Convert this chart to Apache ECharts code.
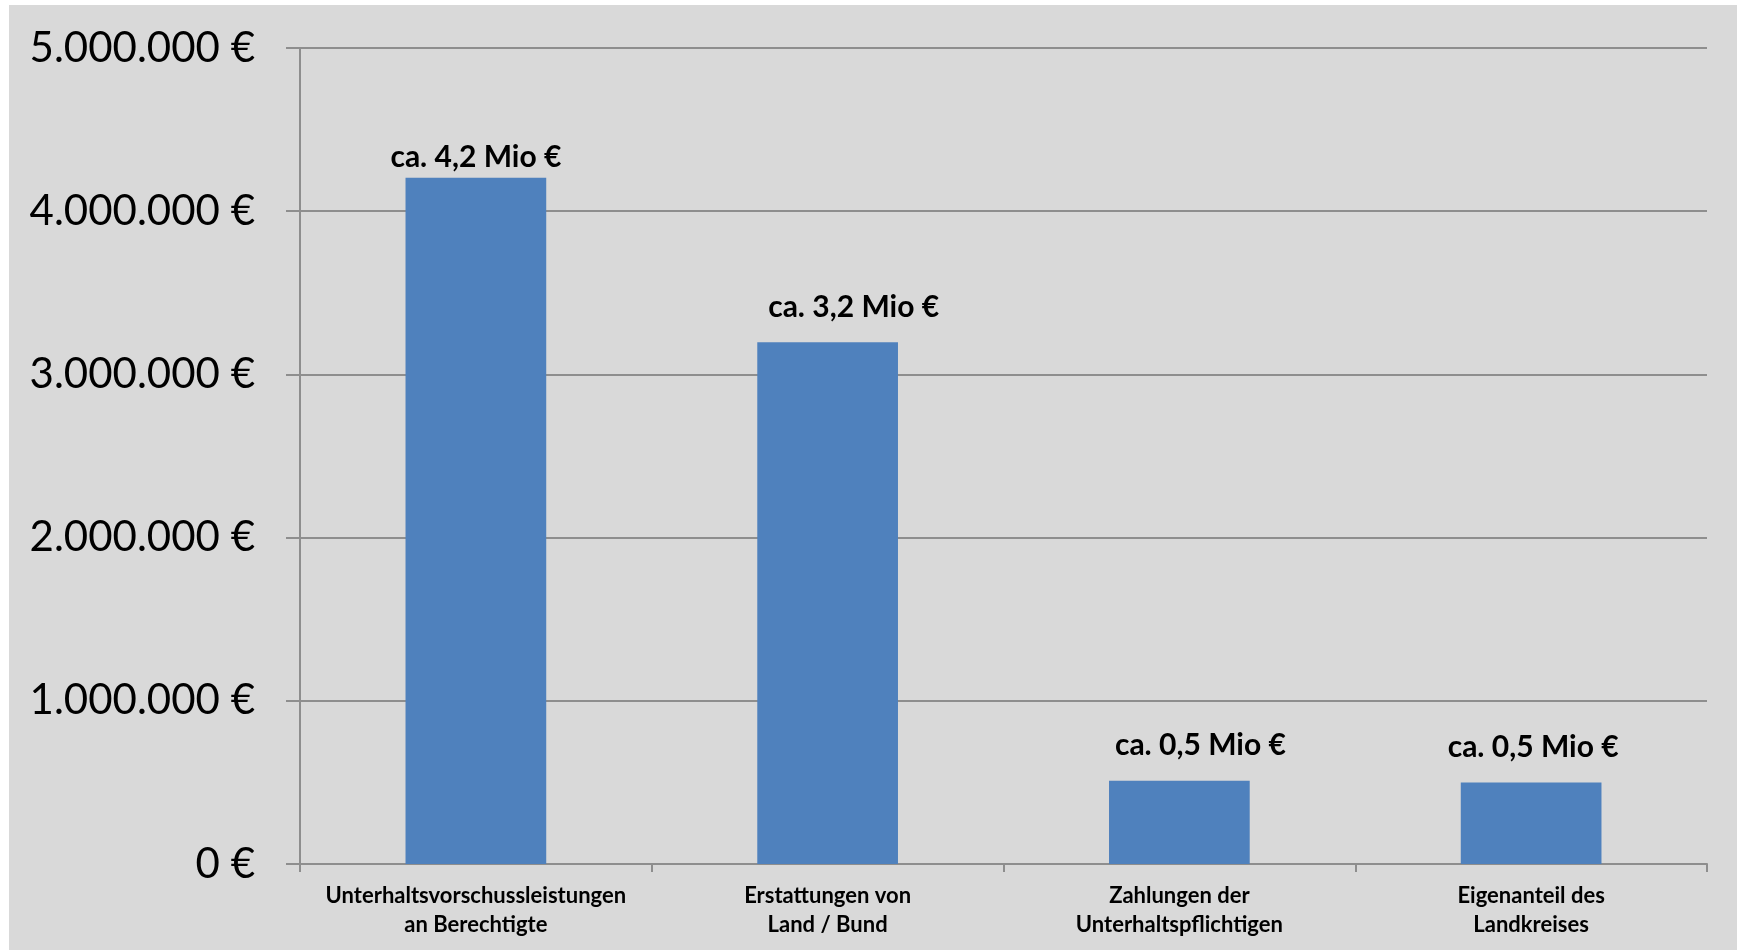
<!DOCTYPE html>
<html>
<head>
<meta charset="utf-8">
<script src="https://cdn.jsdelivr.net/npm/echarts@6/dist/echarts.min.js"></script>
<style>
  html, body { margin: 0; padding: 0; background: #ffffff; }
  #chart-box {
    position: absolute;
    left: 9px;
    top: 5px;
    width: 1728px;
    height: 945px;
    background-color: #d9d9d9;
  }
</style>
</head>
<body>
<div id="chart-box"></div>
<script>
// Kategorien und Werte (in Euro)
var categories = [
  'Unterhaltsvorschussleistungen\nan Berechtigte',
  'Erstattungen von\nLand / Bund',
  'Zahlungen der\nUnterhaltspflichtigen',
  'Eigenanteil des\nLandkreises'
]
var values = [4205000, 3197000, 510000, 500000]
var barLabels = ['ca. 4,2 Mio €', 'ca. 3,2 Mio €', 'ca. 0,5 Mio €', 'ca. 0,5 Mio €']
var yMin = 0
var yMax = 5000000
var yStep = 1000000

// Beschriftungen wurden im Original von Hand verschoben
var labelGap = [5, 20, 20, 20]
var labelShiftX = [0, 26, 21, 2]

function euro(v) {
  return String(v).replace(/\B(?=(\d{3})+(?!\d))/g, '.') + ' €'
}

var chartDom = document.getElementById('chart-box')
var myChart = echarts.init(chartDom)
var option = {
  animation: false,
  grid: {
    left: 291,
    right: 30,
    top: 43,
    bottom: 86
  },
  xAxis: {
    type: 'category',
    data: categories,
    axisLine: {
      lineStyle: { color: '#8e8e8e', width: 2 }
    },
    axisTick: {
      show: true,
      length: 8,
      lineStyle: { color: '#8e8e8e', width: 2 }
    },
    axisLabel: {
      color: '#000000',
      fontFamily: 'Lato',
      fontWeight: 'bold',
      fontSize: 22,
      lineHeight: 29,
      margin: 17,
      interval: 0
    }
  },
  yAxis: {
    type: 'value',
    min: yMin,
    max: yMax,
    interval: yStep,
    axisLine: {
      show: true,
      lineStyle: { color: '#8e8e8e', width: 2 }
    },
    axisTick: {
      show: true,
      length: 14,
      lineStyle: { color: '#8e8e8e', width: 2 }
    },
    splitLine: {
      lineStyle: { color: '#8e8e8e', width: 2 }
    },
    axisLabel: {
      color: '#000000',
      fontFamily: 'Lato',
      fontSize: 42,
      margin: 45,
      formatter: euro
    }
  },
  series: [
    {
      type: 'bar',
      silent: true,
      barWidth: '40%',
      itemStyle: { color: '#4f81bd' },
      label: {
        show: true,
        position: 'top',
        color: '#000000',
        fontFamily: 'Lato',
        fontWeight: 'bold',
        fontSize: 30,
        formatter: function (p) { return barLabels[p.dataIndex] }
      },
      data: values.map(function (v, i) {
        return {
          value: v,
          label: { distance: labelGap[i], offset: [labelShiftX[i], 0] }
        }
      })
    }
  ]
}
option && myChart.setOption(option)
</script>
</body>
</html>
